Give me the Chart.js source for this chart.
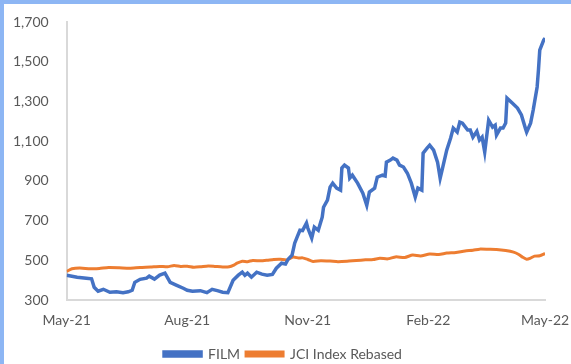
<!DOCTYPE html>
<html>
<head>
<meta charset="utf-8">
<script src="https://cdn.jsdelivr.net/npm/chart.js@4"></script>
<style>
    html, body { margin: 0; padding: 0; background: #ffffff; }
    #wrap {
        width: 567px;
        height: 360px;
        border-top: 4px solid #8db6f4;
        border-left: 4px solid #8db6f4;
        position: relative;
    }
</style>
</head>
<body>
<div id="wrap"><canvas id="chart" width="567" height="360"></canvas></div>
<script>
// Colours
const FILM_BLUE = '#4472c4';
const JCI_ORANGE = '#ed7d31';
const AXIS_GREY = '#d9d9d9';
const TEXT_GREY = '#595959';

// X axis: days since 1 May 2021, with quarterly labels
const tickDays = [0, 92, 184, 276, 365];
const tickLabels = ['May-21', 'Aug-21', 'Nov-21', 'Feb-22', 'May-22'];

// FILM share price
const filmDays = [
    0, 8, 15, 19, 21, 24, 28, 33, 38, 43, 47, 50, 52, 56, 61, 63, 67, 71, 75, 79,
    84, 89, 92, 96, 102, 107, 111, 115, 119, 123, 127, 131, 134, 136, 138, 141, 145, 149, 153, 157,
    160, 164, 167, 169, 172, 174, 176, 178, 180, 183, 184, 187, 189, 192, 195, 196, 199, 201, 203, 206,
    209, 210, 212, 215, 216, 218, 222, 226, 229, 231, 235, 237, 241, 243, 244, 247, 249, 252, 254, 257,
    260, 263, 266, 268, 271, 272, 275, 277, 280, 283, 285, 287, 290, 293, 295, 298, 300, 302, 306, 308,
    310, 313, 315, 317, 319, 322, 325, 327, 328, 331, 333, 335, 336, 340, 344, 347, 350, 351, 354, 356,
    359, 360, 361, 364, 365
];
const filmValues = [
    426, 416, 411, 408, 365, 345, 355, 340, 342, 338, 342, 350, 390, 405, 411, 421, 406, 426, 436, 390,
    375, 360, 350, 345, 348, 338, 355, 348, 340, 338, 400, 426, 441, 425, 436, 416, 441, 431, 426, 430,
    461, 486, 482, 506, 527, 587, 620, 652, 650, 688, 663, 612, 668, 652, 718, 768, 804, 869, 889, 864,
    854, 965, 980, 965, 914, 929, 889, 839, 778, 844, 864, 919, 929, 925, 995, 1005, 1015, 1005, 980, 970,
    939, 889, 819, 864, 854, 1040, 1065, 1080, 1055, 995, 914, 970, 1055, 1116, 1166, 1146, 1196, 1191, 1156, 1156,
    1120, 1150, 1106, 1121, 1045, 1206, 1171, 1181, 1131, 1166, 1166, 1191, 1317, 1292, 1267, 1232, 1166, 1146, 1191, 1257,
    1373, 1458, 1559, 1609, 1619
];

// JCI index rebased
const jciDays = [
    0, 4, 10, 18, 25, 32, 40, 48, 56, 64, 71, 77, 82, 87, 92, 97, 102, 108, 113, 119,
    124, 128, 130, 134, 138, 142, 148, 153, 158, 163, 168, 173, 177, 180, 184, 188, 194, 201, 207, 214,
    221, 228, 234, 239, 245, 251, 258, 264, 270, 277, 284, 290, 297, 304, 310, 315, 322, 328, 335, 341,
    345, 348, 351, 354, 357, 361, 365
];
const jciValues = [
    445, 458, 462, 458, 460, 464, 463, 461, 465, 467, 470, 468, 475, 470, 471, 466, 468, 472, 470, 467,
    468, 478, 486, 496, 494, 500, 498, 501, 505, 506, 503, 517, 512, 513, 505, 495, 499, 497, 494, 496,
    500, 503, 505, 511, 508, 518, 515, 527, 523, 532, 530, 537, 540, 548, 551, 557, 556, 555, 550, 542,
    530, 516, 506, 512, 522, 524, 535
];

// Y axis range
const yMin = 300;
const yMax = 1700;
const yStep = 200;

function toPoints(days, values) {
    return days.map((d, i) => ({ x: d, y: values[i] }));
}

const FONT = { family: 'Lato, "Open Sans", sans-serif', size: 14 };

function createChart() {
    const ctx = document.getElementById('chart').getContext('2d');

    return new Chart(ctx, {
        type: 'line',
        data: {
            datasets: [{
                label: 'FILM',
                data: toPoints(filmDays, filmValues),
                borderColor: FILM_BLUE,
                backgroundColor: FILM_BLUE,
                borderWidth: 3.5,
                pointRadius: 0,
                tension: 0,
                fill: false
            }, {
                label: 'JCI Index Rebased',
                data: toPoints(jciDays, jciValues),
                borderColor: JCI_ORANGE,
                backgroundColor: JCI_ORANGE,
                borderWidth: 3,
                pointRadius: 0,
                tension: 0.2,
                fill: false
            }]
        },
        options: {
            responsive: false,
            animation: false,
            layout: {
                padding: { left: -9, right: 0, top: 18, bottom: -7 }
            },
            plugins: {
                legend: {
                    position: 'bottom',
                    labels: {
                        color: TEXT_GREY,
                        font: FONT,
                        boxWidth: 37,
                        boxHeight: 4,
                        padding: 6
                    }
                },
                tooltip: { enabled: false }
            },
            scales: {
                x: {
                    type: 'linear',
                    min: 0,
                    max: 365,
                    afterBuildTicks: axis => {
                        axis.ticks = tickDays.map(v => ({ value: v }));
                    },
                    afterFit: axis => {
                        axis.paddingRight = 26;
                    },
                    grid: { display: false, drawTicks: false },
                    border: { display: true, color: AXIS_GREY, width: 2 },
                    ticks: {
                        color: TEXT_GREY,
                        font: FONT,
                        padding: 12,
                        maxRotation: 0,
                        autoSkip: false,
                        callback: value => tickLabels[tickDays.indexOf(value)]
                    }
                },
                y: {
                    min: yMin,
                    max: yMax,
                    afterFit: axis => {
                        axis.paddingTop = 0;
                    },
                    grid: { display: false, drawTicks: false },
                    border: { display: true, color: AXIS_GREY, width: 2 },
                    ticks: {
                        stepSize: yStep,
                        color: TEXT_GREY,
                        font: FONT,
                        padding: 18,
                        callback: value => value.toLocaleString('en-US')
                    }
                }
            }
        }
    });
}

document.addEventListener('DOMContentLoaded', createChart);
</script>
</body>
</html>
